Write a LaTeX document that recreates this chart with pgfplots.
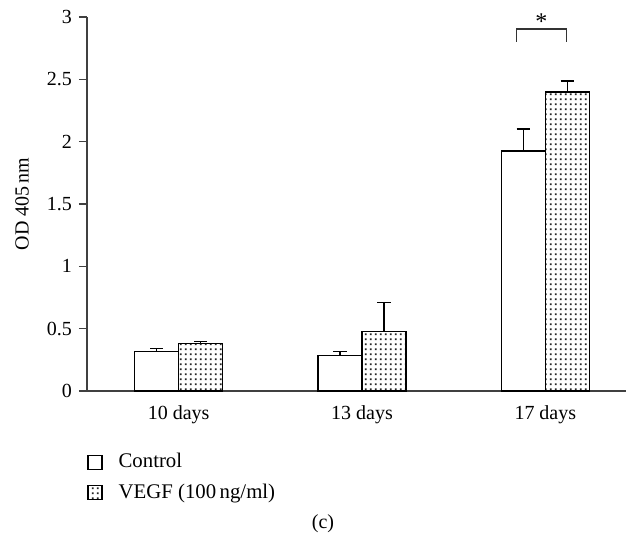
\documentclass[border=0pt]{standalone}
\usepackage{fontspec}
\setmainfont{Liberation Serif}
\usepackage{pgfplots}
\pgfplotsset{compat=1.18}
\usetikzlibrary{patterns}

% dotted fill for the VEGF bars
\pgfdeclarepatternformonly{bardots}{\pgfqpoint{-1pt}{-1pt}}{\pgfqpoint{1.6pt}{1.6pt}}{\pgfqpoint{2.6pt}{2.6pt}}{%
  \pgfpathrectangle{\pgfqpoint{-0.45pt}{-0.45pt}}{\pgfqpoint{0.9pt}{0.9pt}}\pgfusepath{fill}}

\begin{document}
\begin{tikzpicture}
\begin{axis}[
  scale only axis,
  width=269.5pt, height=187pt,
  clip=false,
  ybar=0pt, bar width=22pt,
  xmin=-0.5, xmax=2.44,
  ymin=0, ymax=3,
  xtick={0,1,2},
  xticklabels={10 days, 13 days, 17 days},
  xtick style={draw=none},
  ytick={0,0.5,...,3},
  tick align=outside,
  major tick length=4pt,
  axis x line*=bottom, axis y line*=left,
  axis line style={black!75, line width=0.6pt},
  ytick style={black!75, line width=0.6pt},
  /pgf/number format/assume math mode=true,
  ylabel={OD 405\,nm},
  ylabel style={at={(axis description cs:-0.1206,0.5)}, anchor=center},
  legend style={at={(axis description cs:0,-0.166)}, anchor=north west,
    draw=none, fill=none, inner xsep=0pt, inner ysep=0pt, row sep=6.5pt,
    font=\fontsize{10.4pt}{12pt}\selectfont,
    nodes={inner sep=0pt}},
  legend cell align=left,
  legend image code/.code={\draw[#1] (0pt,-3.5pt) rectangle (7pt,3.5pt);},
  error bars/y dir=plus, error bars/y explicit,
  error bars/error mark options={rotate=90, mark size=3.3pt, line width=0.7pt},
  error bars/error bar style={line width=0.7pt},
]
\addplot[draw=black, fill=white, line width=0.6pt] coordinates {
  (0,0.315) +- (0,0.028)
  (1,0.283) +- (0,0.032)
  (2,1.925) +- (0,0.175)
};
\addlegendentry{\hspace{8pt}Control}
\addplot[draw=black, fill=white, line width=0.6pt,
  postaction={pattern=bardots, pattern color=black!85}] coordinates {
  (0,0.382) +- (0,0.014)
  (1,0.476) +- (0,0.234)
  (2,2.398) +- (0,0.089)
};
\addlegendentry{\hspace{8pt}VEGF (100\,ng/ml)}
\draw[black!80, line width=0.6pt] (axis cs:1.842,2.80) -- (axis cs:1.842,2.904)
  -- (axis cs:2.114,2.904) -- (axis cs:2.114,2.80);
\node[font=\large] at (axis cs:1.978,2.965) {*};
\coordinate (O) at (rel axis cs:0,0);
\end{axis}
\node at ([xshift=118pt, yshift=-66.5pt]O) {(c)};
\pgfresetboundingbox
\path ([xshift=-43.5pt, yshift=-74pt]O) rectangle ++(313pt,269.5pt);
\end{tikzpicture}
\end{document}
